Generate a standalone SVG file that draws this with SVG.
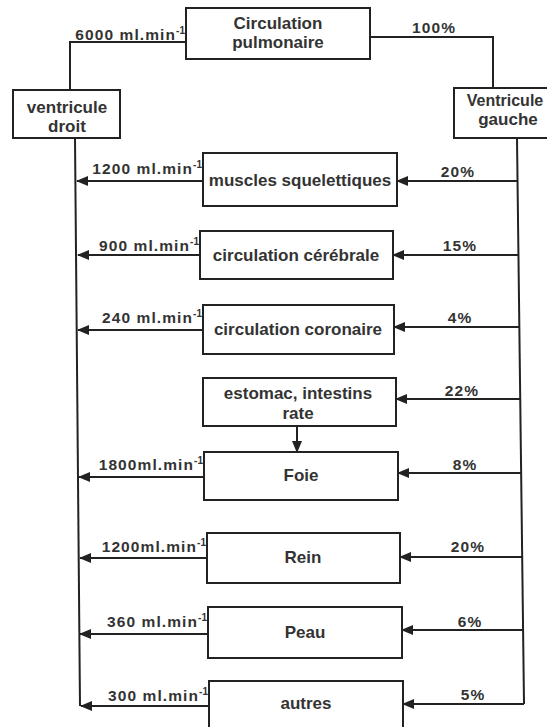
<svg xmlns="http://www.w3.org/2000/svg" width="547" height="727" viewBox="0 0 547 727">
<style>
.box{fill:#fff;stroke:#222;stroke-width:2}
.ln{fill:none;stroke:#222;stroke-width:2}
.bt{font-family:"Liberation Sans",Arial,sans-serif;font-weight:bold;font-size:17px;fill:#333;text-anchor:middle}
.lb{font-family:"Liberation Sans",Arial,sans-serif;font-weight:bold;font-size:15.5px;letter-spacing:1.1px;fill:#333}
.sup{font-size:10px;letter-spacing:0}
.pc{text-anchor:middle}
.ml{text-anchor:end}
</style>
<defs>
<marker id="ah" viewBox="0 0 12 10" refX="11" refY="5" markerWidth="12" markerHeight="10" markerUnits="userSpaceOnUse" orient="auto">
<path d="M0,0 L12,5 L0,10 Z" fill="#222"/>
</marker>
</defs>
<rect width="547" height="727" fill="#fff"/>
<g id="connectors">
<polyline class="ln" points="186,42 70,42 70,90"/>
<polyline class="ln" points="370,37 493,37 493,88"/>
<line class="ln" x1="75" y1="138" x2="80" y2="706"/>
<line class="ln" x1="517" y1="138" x2="524" y2="704"/>
<line class="ln" x1="203" y1="181" x2="77" y2="181" marker-end="url(#ah)"/>
<line class="ln" x1="518" y1="181" x2="397" y2="181" marker-end="url(#ah)"/>
<line class="ln" x1="200" y1="255" x2="78" y2="255" marker-end="url(#ah)"/>
<line class="ln" x1="519" y1="255" x2="393" y2="255" marker-end="url(#ah)"/>
<line class="ln" x1="203" y1="330" x2="78" y2="330" marker-end="url(#ah)"/>
<line class="ln" x1="519" y1="327" x2="394" y2="327" marker-end="url(#ah)"/>
<line class="ln" x1="520" y1="399" x2="396" y2="399" marker-end="url(#ah)"/>
<line class="ln" x1="297" y1="426" x2="297" y2="452" marker-end="url(#ah)"/>
<line class="ln" x1="204" y1="477" x2="79" y2="477" marker-end="url(#ah)"/>
<line class="ln" x1="521" y1="473" x2="398" y2="473" marker-end="url(#ah)"/>
<line class="ln" x1="207" y1="558" x2="80" y2="558" marker-end="url(#ah)"/>
<line class="ln" x1="522" y1="557" x2="400" y2="557" marker-end="url(#ah)"/>
<line class="ln" x1="208" y1="634" x2="80" y2="634" marker-end="url(#ah)"/>
<line class="ln" x1="523" y1="630" x2="402" y2="630" marker-end="url(#ah)"/>
<line class="ln" x1="209" y1="706" x2="81" y2="706" marker-end="url(#ah)"/>
<line class="ln" x1="524" y1="704" x2="403" y2="704" marker-end="url(#ah)"/>
</g>
<g id="labels">
<text class="lb ml" x="185" y="40">6000 ml.min<tspan class="sup" dy="-6">-1</tspan></text>
<text class="lb pc" x="434" y="33">100%</text>
<text class="lb ml" x="202" y="174">1200 ml.min<tspan class="sup" dy="-6">-1</tspan></text>
<text class="lb pc" x="458" y="177">20%</text>
<text class="lb ml" x="199" y="251">900 ml.min<tspan class="sup" dy="-6">-1</tspan></text>
<text class="lb pc" x="460" y="251">15%</text>
<text class="lb ml" x="202" y="323">240 ml.min<tspan class="sup" dy="-6">-1</tspan></text>
<text class="lb pc" x="460" y="323">4%</text>
<text class="lb pc" x="462" y="396">22%</text>
<text class="lb ml" x="203" y="470">1800ml.min<tspan class="sup" dy="-6">-1</tspan></text>
<text class="lb pc" x="465" y="470">8%</text>
<text class="lb ml" x="206" y="552">1200ml.min<tspan class="sup" dy="-6">-1</tspan></text>
<text class="lb pc" x="468" y="552">20%</text>
<text class="lb ml" x="207" y="627">360 ml.min<tspan class="sup" dy="-6">-1</tspan></text>
<text class="lb pc" x="470" y="627">6%</text>
<text class="lb ml" x="208" y="701">300 ml.min<tspan class="sup" dy="-6">-1</tspan></text>
<text class="lb pc" x="473" y="700">5%</text>
</g>
<g id="pulmonaire">
<rect class="box" x="186" y="8" width="184" height="51"/>
<text class="bt" x="278" y="29">Circulation</text>
<text class="bt" x="278" y="48">pulmonaire</text>
</g>
<g id="ventricule-droit">
<rect class="box" x="13" y="90" width="107" height="48"/>
<text class="bt" x="67" y="113">ventricule</text>
<text class="bt" x="67" y="132">droit</text>
</g>
<g id="ventricule-gauche">
<rect class="box" x="454" y="88" width="110" height="50"/>
<text class="bt" x="505" y="106" style="font-size:16px">Ventricule</text>
<text class="bt" x="508" y="125">gauche</text>
</g>
<g id="muscles">
<rect class="box" x="203" y="153" width="194" height="53"/>
<text class="bt" x="300" y="186">muscles squelettiques</text>
</g>
<g id="cerebrale">
<rect class="box" x="200" y="231" width="193" height="48"/>
<text class="bt" x="296" y="261">circulation cérébrale</text>
</g>
<g id="coronaire">
<rect class="box" x="203" y="305" width="191" height="49"/>
<text class="bt" x="298" y="335">circulation coronaire</text>
</g>
<g id="estomac">
<rect class="box" x="203" y="378" width="193" height="48"/>
<text class="bt" x="298" y="399">estomac, intestins</text>
<text class="bt" x="298" y="419">rate</text>
</g>
<g id="foie">
<rect class="box" x="204" y="452" width="194" height="48"/>
<text class="bt" x="301" y="481">Foie</text>
</g>
<g id="rein">
<rect class="box" x="207" y="533" width="193" height="50"/>
<text class="bt" x="303" y="563">Rein</text>
</g>
<g id="peau">
<rect class="box" x="208" y="607" width="194" height="51"/>
<text class="bt" x="305" y="638">Peau</text>
</g>
<g id="autres">
<rect class="box" x="209" y="681" width="194" height="52"/>
<text class="bt" x="306" y="709">autres</text>
</g>
</svg>
